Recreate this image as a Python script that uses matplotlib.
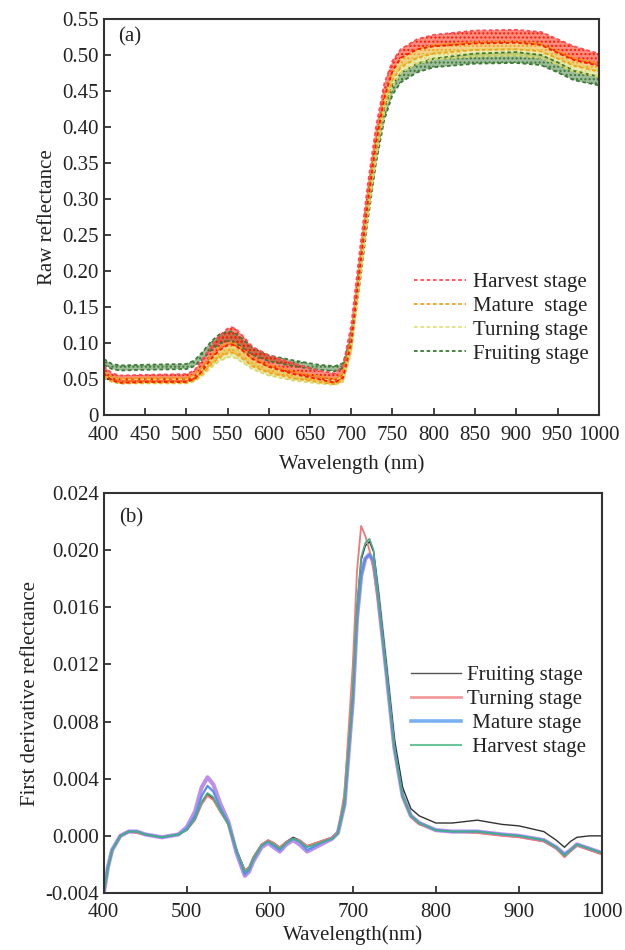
import matplotlib
matplotlib.use("Agg")
import matplotlib.pyplot as plt

plt.rcParams["font.family"] = ["Liberation Serif", "DejaVu Serif"]
plt.rcParams["hatch.linewidth"] = 1.0

# ---- panel (a): raw reflectance, upper / lower edge of each stage bundle
wl_a = [400, 410, 420, 450, 500, 510, 520, 530, 540, 550, 555, 560, 570,
        580, 600, 630, 660, 680, 690, 700, 710, 720, 730, 740, 750, 760,
        780, 800, 850, 900, 930, 950, 970, 1000]
harvest_hi = [.068, .058, .055, .056, .057, .062, .078, .095, .110, .120,
              .122, .120, .108, .095, .083, .072, .062, .058, .068, .125,
              .225, .320, .400, .460, .492, .508, .522, .528, .534, .535,
              .532, .522, .512, .502]
harvest_lo = [.058, .048, .045, .046, .046, .050, .062, .078, .090, .097,
              .098, .096, .088, .078, .067, .057, .050, .045, .052, .100,
              .200, .295, .378, .440, .478, .496, .508, .512, .516, .517,
              .514, .503, .493, .485]
mature_hi = [.060, .053, .051, .052, .052, .056, .068, .082, .094, .100,
             .101, .099, .090, .080, .070, .061, .054, .051, .058, .108,
             .205, .300, .382, .443, .478, .495, .508, .514, .518, .519,
             .516, .506, .496, .488]
mature_lo = [.054, .047, .044, .045, .045, .048, .058, .070, .080, .086,
             .087, .085, .077, .068, .059, .051, .046, .043, .048, .092,
             .190, .285, .368, .430, .465, .483, .496, .502, .507, .508,
             .505, .495, .485, .477]
turning_hi = [.058, .052, .050, .050, .050, .054, .064, .077, .087, .092,
              .093, .091, .083, .074, .064, .056, .050, .048, .054, .100,
              .195, .290, .372, .433, .468, .486, .498, .504, .508, .509,
              .506, .497, .487, .479]
turning_lo = [.052, .046, .044, .044, .044, .047, .055, .066, .075, .080,
              .081, .079, .072, .064, .055, .048, .044, .042, .046, .088,
              .182, .276, .358, .420, .456, .475, .488, .494, .498, .499,
              .496, .487, .477, .470]
fruiting_hi = [.078, .071, .069, .070, .071, .076, .088, .102, .112, .116,
               .116, .113, .104, .094, .083, .076, .070, .068, .072, .110,
               .195, .285, .365, .425, .458, .475, .488, .495, .502, .504,
               .500, .490, .478, .470]
fruiting_lo = [.070, .064, .062, .063, .064, .068, .078, .090, .099, .103,
               .103, .100, .092, .084, .075, .068, .063, .061, .065, .098,
               .180, .270, .350, .410, .445, .462, .476, .483, .488, .489,
               .486, .476, .465, .458]

# ---- panel (b): first derivative reflectance
wl_b = [400, 405, 410, 420, 430, 440, 450, 460, 470, 480,
        490, 500, 510, 518, 525, 532, 540, 550, 560, 570,
        575, 580, 590, 598, 605, 612, 620, 628, 636, 645,
        655, 665, 675, 682, 690, 700, 705, 710, 715, 720,
        725, 730, 740, 750, 760, 770, 780, 800, 820, 850,
        880, 900, 930, 945, 955, 962, 970, 985, 1000]
d_harvest = [-.0040, -.0022, -.0010, .0000, .0003, .0003, .0001, .0000, -.0001, .0000,
             .0001, .0004, .0012, .0024, .0030, .0027, .0018, .0008, -.0010, -.0025,
             -.0023, -.0016, -.0007, -.0004, -.0006, -.0009, -.0005, -.0002, -.0004, -.0008,
             -.0006, -.0004, -.0002, .0002, .0025, .0100, .0160, .0195, .0205, .0208,
             .0200, .0172, .0118, .0062, .0028, .0014, .0009, .0004, .0003, .0003,
             .0001, .0000, -.0003, -.0008, -.0014, -.0010, -.0006, -.0009, -.0012]
d_turning = [-.0040, -.0022, -.0010, .0000, .0003, .0002, .0001, .0000, -.0001, .0000,
             .0001, .0004, .0011, .0022, .0028, .0025, .0017, .0008, -.0010, -.0024,
             -.0022, -.0015, -.0006, -.0003, -.0005, -.0008, -.0004, -.0002, -.0003, -.0007,
             -.0005, -.0003, -.0001, .0003, .0030, .0120, .0185, .0217, .0210, .0200,
             .0186, .0165, .0116, .0062, .0027, .0013, .0008, .0004, .0003, .0002,
             .0000, -.0001, -.0004, -.0009, -.0015, -.0011, -.0007, -.0010, -.0013]
d_mature = [-.0040, -.0022, -.0010, .0000, .0003, .0003, .0001, .0000, -.0001, .0000,
            .0001, .0005, .0014, .0028, .0035, .0031, .0020, .0009, -.0011, -.0027,
            -.0024, -.0017, -.0007, -.0004, -.0007, -.0010, -.0005, -.0002, -.0004, -.0010,
            -.0007, -.0004, -.0002, .0002, .0022, .0095, .0152, .0182, .0194, .0197,
            .0192, .0170, .0117, .0062, .0028, .0014, .0009, .0004, .0003, .0003,
            .0001, .0000, -.0003, -.0008, -.0013, -.0010, -.0006, -.0009, -.0012]
d_fruiting = [-.0040, -.0022, -.0010, .0000, .0003, .0003, .0001, .0000, -.0001, .0000,
              .0001, .0004, .0012, .0023, .0029, .0026, .0018, .0008, -.0010, -.0024,
              -.0022, -.0015, -.0006, -.0003, -.0005, -.0008, -.0004, -.0001, -.0003, -.0007,
              -.0005, -.0003, -.0001, .0003, .0024, .0098, .0158, .0193, .0203, .0206,
              .0199, .0175, .0122, .0068, .0034, .0019, .0014, .0009, .0009, .0011,
              .0008, .0007, .0003, -.0003, -.0008, -.0004, -.0001, .0000, .0000]
d_sample = [-.0040, -.0022, -.0010, .0000, .0003, .0003, .0001, .0000, -.0001, .0000,
            .0001, .0006, .0017, .0034, .0041, .0036, .0023, .0010, -.0012, -.0028,
            -.0025, -.0018, -.0008, -.0005, -.0008, -.0011, -.0006, -.0003, -.0006, -.0011,
            -.0008, -.0005, -.0002, .0002, .0022, .0095, .0152, .0182, .0194, .0197,
            .0192, .0170, .0117, .0062, .0028, .0014, .0009, .0004, .0003, .0003,
            .0001, .0000, -.0003, -.0008, -.0013, -.0010, -.0006, -.0009, -.0012]

FS = 15
INK = "#222222"

fig = plt.figure(figsize=(6.25, 9.5), dpi=100)
ax1 = fig.add_axes([0.166, 0.563, 0.792, 0.417])
ax2 = fig.add_axes([0.166, 0.060, 0.797, 0.421])

for ax in (ax1, ax2):
    for s in ax.spines.values():
        s.set_color("#333333")
        s.set_linewidth(1.5)
    ax.tick_params(direction="in", length=5, width=1.2, labelsize=FS,
                   colors=INK, top=False, right=False)
    ax.tick_params(axis="x", pad=7.5)

# (a)
stages_a = [("Fruiting stage", fruiting_lo, fruiting_hi, "#3d7a35", "#3d7a35"),
            ("Turning stage", turning_lo, turning_hi, "#d9d96a", "#d9d96a"),
            ("Mature  stage", mature_lo, mature_hi, "#f3a21a", "#f39a10"),
            ("Harvest stage", harvest_lo, harvest_hi, "#ff1a00", "#ff4a5a")]
for name, lo, hi, col, top_col in stages_a:
    ax1.fill_between(wl_a, lo, hi, facecolor=col, alpha=0.5, linewidth=0)
    ax1.fill_between(wl_a, lo, hi, facecolor="none", edgecolor=col,
                     hatch="....", linewidth=0)
    ax1.plot(wl_a, hi, color=top_col, lw=1.3, ls=(0, (2, 1.5)))
    ax1.plot(wl_a, lo, color=col, lw=1.3, ls=(0, (2, 1.5)))
leg_names = ["Harvest stage", "Mature  stage", "Turning stage", "Fruiting stage"]
leg_cols = ["#ff4a5a", "#f0a020", "#e2e27a", "#3d7a35"]
leg_h = [plt.Line2D([], [], color=c, lw=1.3, ls=(0, (2, 1.5))) for c in leg_cols]
ax1.legend(leg_h, leg_names,
           loc="center left", bbox_to_anchor=(0.626, 0.245), frameon=False,
           fontsize=FS, handlelength=2.5, handletextpad=0.35, labelspacing=0.2,
           borderpad=0, borderaxespad=0, labelcolor=INK)
ax1.set_xlim(400, 1000)
ax1.set_ylim(0, 0.55)
ax1.set_xticks(range(400, 1001, 50))
ax1.set_yticks([0, .05, .10, .15, .20, .25, .30, .35, .40, .45, .50, .55])
ax1.set_yticklabels(["0", "0.05", "0.10", "0.15", "0.20", "0.25", "0.30",
                     "0.35", "0.40", "0.45", "0.50", "0.55"])
ax1.set_xlabel("Wavelength (nm)", fontsize=FS, color=INK, labelpad=7)
ax1.set_ylabel("Raw reflectance", fontsize=FS, color=INK)
ax1.text(0.03, 0.955, "(a)", transform=ax1.transAxes, fontsize=FS,
         va="center", color=INK)

# (b)
ax2.plot(wl_b, d_sample, color="#a060e0", lw=3, alpha=0.7)
ax2.plot(wl_b, d_fruiting, color="#333333", lw=1.0)
ax2.plot(wl_b, d_turning, color="#f07878", lw=1.3)
ax2.plot(wl_b, d_mature, color="#5a90e8", lw=1.6)
ax2.plot(wl_b, d_harvest, color="#40b088", lw=1.2)
leg2 = [plt.Line2D([], [], color="#555555", lw=1.0),
        plt.Line2D([], [], color="#f39a9a", lw=2.0),
        plt.Line2D([], [], color="#7ab0f2", lw=2.6),
        plt.Line2D([], [], color="#6cc49a", lw=1.5)]
ax2.legend(leg2, ["Fruiting stage", "Turning stage", " Mature stage", " Harvest stage"],
           loc="center left", bbox_to_anchor=(0.617, 0.454), frameon=False,
           fontsize=FS, handlelength=2.4, handletextpad=0.3, labelspacing=0.22,
           borderpad=0, borderaxespad=0, labelcolor=INK)
ax2.set_xlim(400, 1000)
ax2.set_ylim(-0.004, 0.024)
ax2.set_xticks(range(400, 1001, 100))
ax2.set_yticks([-.004, 0, .004, .008, .012, .016, .020, .024])
ax2.set_yticklabels(["-0.004", "0.000", "0.004", "0.008", "0.012", "0.016",
                     "0.020", "0.024"])
ax2.set_xlabel("Wavelength(nm)", fontsize=FS, color=INK, labelpad=2)
ax2.set_ylabel("First derivative reflectance", fontsize=FS, color=INK)
ax2.text(0.03, 0.938, "(b)", transform=ax2.transAxes, fontsize=FS,
         va="center", color=INK)

fig.savefig("out.png", dpi=100)
